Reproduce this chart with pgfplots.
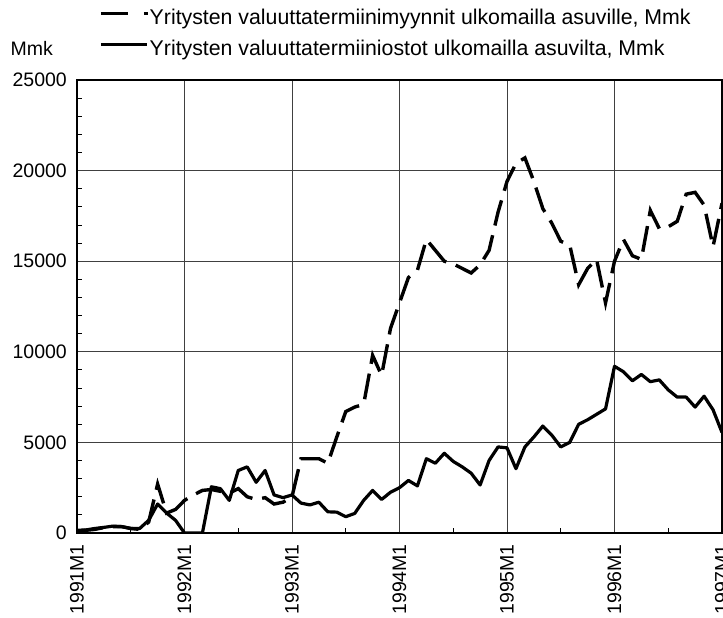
\documentclass[border=0pt]{standalone}
\usepackage{fontspec}
\setmainfont{Liberation Sans}
\usepackage{pgfplots}
\usepackage{pgfplotstable}
\pgfplotsset{compat=1.18}

% monthly data, m = 0 is 1991M1
\pgfplotstableread{
m sales purch
0 100 150
1 150 170
2 200 250
3 300 310
4 350 380
5 350 350
6 250 250
7 200 250
8 600 700
9 2700 1600
10 1100 1100
11 1300 700
12 1800 0
13 2100 0
14 2350 0
15 2400 2550
16 2300 2450
17 2200 1800
18 2450 3450
19 2000 3650
20 1850 2800
21 1950 3450
22 1600 2100
23 1700 1950
24 2000 2100
25 4100 1650
26 4100 1550
27 4100 1700
28 3850 1170
29 5300 1150
30 6700 900
31 6950 1080
32 7100 1800
33 9800 2350
34 8700 1850
35 11300 2250
36 12700 2500
37 14100 2900
38 14500 2600
39 16200 4100
40 15600 3850
41 15000 4400
42 14850 3950
43 14600 3650
44 14350 3300
45 14800 2650
46 15600 4000
47 17700 4750
48 19400 4700
49 20400 3550
50 20700 4750
51 19400 5300
52 17900 5900
53 17100 5400
54 16100 4750
55 15900 5000
56 13700 6000
57 14600 6250
58 15100 6550
59 12700 6850
60 15000 9200
61 16200 8900
62 15300 8400
63 15100 8750
64 17800 8350
65 16800 8450
66 16900 7900
67 17200 7500
68 18700 7500
69 18800 6950
70 18100 7550
71 15800 6800
72 18200 5550
}\data

\begin{document}
\begin{tikzpicture}
\path[use as bounding box] (-77bp,-85bp) rectangle (646bp,533bp);
\begin{axis}[
    at={(0,0)}, anchor=south west,
    scale only axis,
    width=645bp, height=453bp,
    xmin=0, xmax=72, ymin=0, ymax=25000,
    xtick={0,12,...,72},
    xticklabels={1991M1,1992M1,1993M1,1994M1,1995M1,1996M1,1997M1},
    ytick={0,5000,...,25000},
    scaled y ticks=false,
    minor x tick num=1,
    minor y tick num=4,
    tick pos=left,
    tick align=inside,
    major tick length=0pt,
    minor tick length=5bp,
    grid=major,
    major grid style={black!75, line width=0.9bp},
    axis line style={line width=1.2bp},
    tick style={black, line width=0.9bp},
    /pgf/number format/assume math mode=true,
    /pgf/number format/1000 sep={},
    tick label style={font=\fontsize{19.5bp}{22bp}\selectfont},
    xticklabel style={rotate=90, anchor=east, inner sep=1bp},
    xticklabel shift=10bp,
    yticklabel style={inner sep=1bp},
    yticklabel shift=9bp,
    ylabel={Mmk},
    every axis y label/.style={at={(rel axis cs:0,1)}, anchor=west,
        xshift=-70bp, yshift=32bp, font=\fontsize{19.5bp}{22bp}\selectfont},
    legend style={at={(rel axis cs:0.034,1.157)}, anchor=north west,
        draw=none, fill=none, inner sep=0pt, row sep=12bp,
        font=\fontsize{21.3bp}{24bp}\selectfont,
        nodes={inner sep=0pt, text height=15bp, text depth=4bp},
        /tikz/every even column/.append style={column sep=3bp}},
    legend cell align=left,
]
\addplot[black, line width=3.4bp, dash pattern=on 26bp off 10bp,
    legend image code/.code={\draw[black, line width=3.6bp,
        dash pattern=on 27bp off 16bp] (0bp,5bp) -- (47bp,5bp);}]
    table[x=m, y=sales] {\data};
\addlegendentry{Yritysten valuuttatermiinimyynnit ulkomailla asuville, Mmk}
\addplot[black, line width=3.2bp, line join=round,
    legend image code/.code={\draw[black, line width=3.4bp]
        (0bp,5bp) -- (46bp,5bp);}]
    table[x=m, y=purch] {\data};
\addlegendentry{Yritysten valuuttatermiiniostot ulkomailla asuvilta, Mmk}
\end{axis}
\end{tikzpicture}
\end{document}
